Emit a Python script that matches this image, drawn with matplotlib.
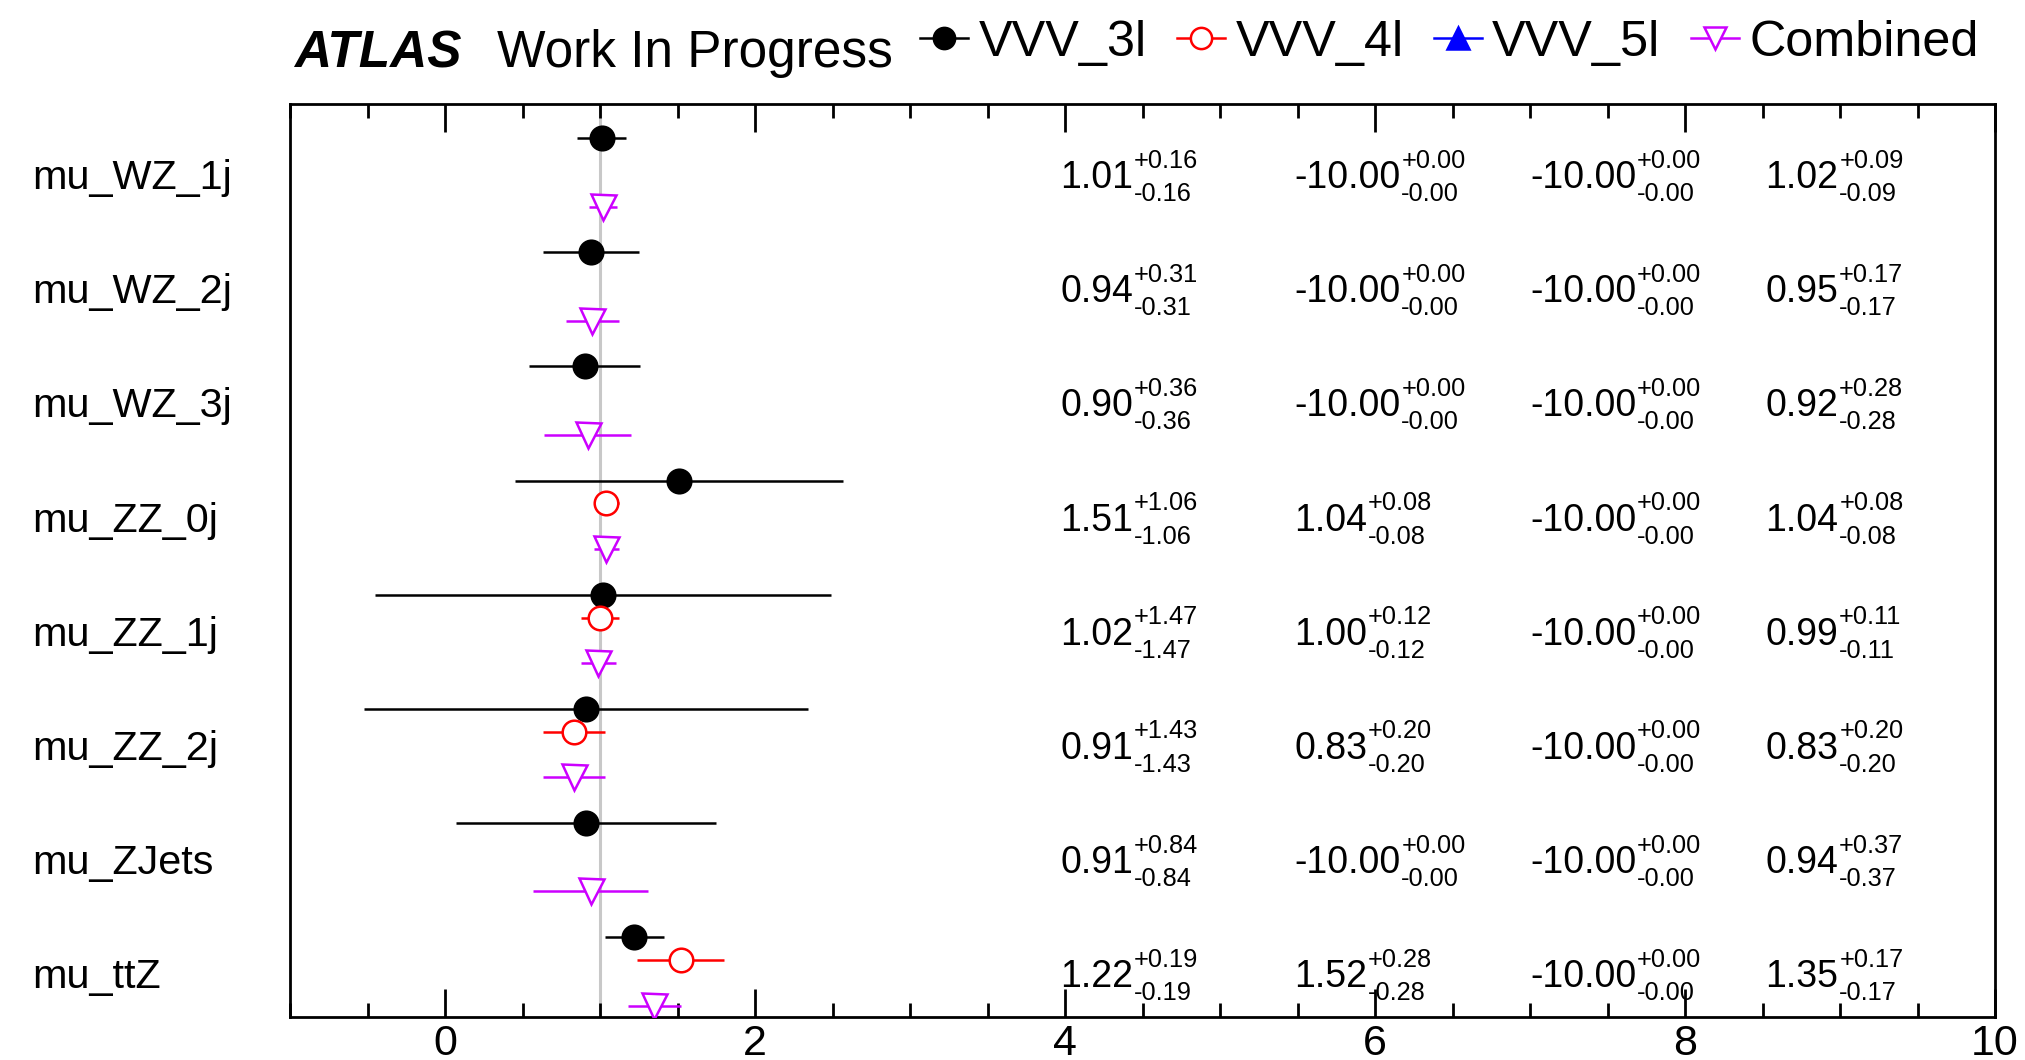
import matplotlib
matplotlib.use("Agg")
import matplotlib.pyplot as plt
from matplotlib.lines import Line2D
from matplotlib.ticker import MultipleLocator, NullLocator
from matplotlib import transforms

plt.rcParams["font.family"] = ["Liberation Sans", "DejaVu Sans"]

# Parameters of interest, top to bottom
params = ["mu_WZ_1j", "mu_WZ_2j", "mu_WZ_3j", "mu_ZZ_0j",
          "mu_ZZ_1j", "mu_ZZ_2j", "mu_ZJets", "mu_ttZ"]

# Best-fit values and symmetric uncertainties per fit
vvv3l_val = [1.01, 0.94, 0.90, 1.51, 1.02, 0.91, 0.91, 1.22]
vvv3l_err = [0.16, 0.31, 0.36, 1.06, 1.47, 1.43, 0.84, 0.19]
vvv4l_val = [-10.00, -10.00, -10.00, 1.04, 1.00, 0.83, -10.00, 1.52]
vvv4l_err = [0.00, 0.00, 0.00, 0.08, 0.12, 0.20, 0.00, 0.28]
vvv5l_val = [-10.00] * 8
vvv5l_err = [0.00] * 8
comb_val = [1.02, 0.95, 0.92, 1.04, 0.99, 0.83, 0.94, 1.35]
comb_err = [0.09, 0.17, 0.28, 0.08, 0.11, 0.20, 0.37, 0.17]

fit_names = ["VVV_3l", "VVV_4l", "VVV_5l", "Combined"]
# x positions of the printed result columns
text_cols = [3.97, 5.48, 7.0, 8.52]

W, H = 2025, 1060
fig = plt.figure(figsize=(W / 100, H / 100), dpi=100)
ax = fig.add_axes([290 / W, (H - 1017) / H, (1995 - 290) / W, (1017 - 104) / H])

ax.set_xlim(-1, 10)
ax.set_ylim(38.5, -1.5)

slots_per_row = 5
styles = [
    dict(fmt="o", color="black", mfc="black", mec="black", ms=17),
    dict(fmt="o", color="red", mfc="white", mec="red", ms=17),
    dict(fmt="^", color="blue", mfc="blue", mec="blue", ms=18),
    dict(fmt="v", color="#cc00ff", mfc="white", mec="#cc00ff", ms=18),
]
series = [(vvv3l_val, vvv3l_err), (vvv4l_val, vvv4l_err),
          (vvv5l_val, vvv5l_err), (comb_val, comb_err)]

ax.axvline(1.0, color="#c8c8c8", lw=2.2, zorder=0)

for j, ((vals, errs), st) in enumerate(zip(series, styles)):
    ypos = [slots_per_row * i + j for i in range(len(params))]
    ax.errorbar(vals, ypos, xerr=errs, fmt=st["fmt"], color=st["color"],
                mfc=st["mfc"], mec=st["mec"], ms=st["ms"], mew=1.8,
                elinewidth=1.8, capsize=0, zorder=3 + j)

# Row labels on the left, outside the frame
text_dy = 1.75
lab_tr = transforms.blended_transform_factory(fig.transFigure, ax.transData)
for i, p in enumerate(params):
    yc = slots_per_row * i + text_dy
    ax.text(32 / W, yc, p, transform=lab_tr, fontsize=29.8,
            ha="left", va="center")

# Printed results: value with +/- uncertainty as super/subscripts
for j, (vals, errs) in enumerate(series):
    for i in range(len(params)):
        yc = slots_per_row * i + text_dy
        main = ax.text(text_cols[j], yc, f"{vals[i]:.2f}", fontsize=27,
                       ha="left", va="center", zorder=10)
        ax.annotate(f"+{errs[i]:.2f}", xy=(1, 0.5), xycoords=main,
                    xytext=(0.5, 12.5), textcoords="offset points",
                    fontsize=18.3, ha="left", va="center", zorder=10)
        ax.annotate(f"-{errs[i]:.2f}", xy=(1, 0.5), xycoords=main,
                    xytext=(0.5, -11.5), textcoords="offset points",
                    fontsize=18.3, ha="left", va="center", zorder=10)

# Axes styling
ax.xaxis.set_major_locator(MultipleLocator(2))
ax.xaxis.set_minor_locator(MultipleLocator(0.5))
ax.yaxis.set_major_locator(NullLocator())
ax.yaxis.set_minor_locator(NullLocator())
ax.tick_params(axis="x", which="both", direction="in", top=True,
               bottom=True, width=2, labelsize=31, pad=5)
ax.tick_params(axis="x", which="major", length=20)
ax.tick_params(axis="x", which="minor", length=10)
for sp in ax.spines.values():
    sp.set_linewidth(2)

# Header
fig.text(294 / W, 1 - 67 / H, "ATLAS", fontsize=37, fontweight="bold",
         fontstyle="italic", va="baseline", ha="left")
fig.text(497 / W, 1 - 67 / H, "Work In Progress", fontsize=37,
         va="baseline", ha="left")

handles = [Line2D([], [], color=st["color"], marker=st["fmt"], mfc=st["mfc"],
                  mec=st["mec"], ms=st["ms"] * 0.9, mew=1.8, lw=1.8)
           for st in styles]
fig.legend(handles, fit_names, loc="center left",
           bbox_to_anchor=(920 / W, 1 - 43 / H), ncol=4, frameon=False,
           fontsize=36.3, handlelength=0.96, handletextpad=0.2,
           columnspacing=0.6, borderpad=0, borderaxespad=0, numpoints=1)

fig.savefig("out.png", dpi=100)
